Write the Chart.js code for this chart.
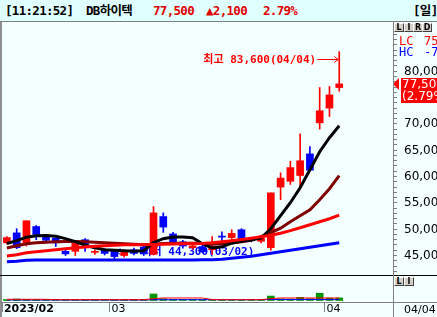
<!DOCTYPE html>
<html>
<head>
<meta charset="utf-8">
<title>DB하이텍 일봉</title>
<script src="https://cdn.jsdelivr.net/npm/chart.js@4.4.1/dist/chart.umd.min.js"></script>
<style>
    html, body { margin: 0; padding: 0; }
    body {
        width: 437px; height: 317px; position: relative; overflow: hidden;
        background: #f4ffff;
        font-family: "DejaVu Sans Mono", "Noto Sans CJK KR", monospace;
    }
    .abs { position: absolute; }
    #hdr { left: 0; top: 0; width: 437px; height: 21px; background: #e0ffff; border-bottom: 1px solid #808080; }
    #hdr span {
        position: absolute; top: 3px; font-size: 12.5px; font-weight: bold;
        letter-spacing: -0.7px; line-height: 16px; white-space: nowrap; color: #000;
    }
    #hdr span.red { color: #e00000; }
    .btn {
        position: absolute; width: 8px; height: 7px; background: #d4d0c8;
        border-top: 1px solid #fff; border-left: 1px solid #fff;
        border-right: 1px solid #404040; border-bottom: 1px solid #404040;
        font: bold 8px "DejaVu Sans", sans-serif; line-height: 7px; text-align: center; color: #000;
    }
    .side { position: absolute; font-size: 12px; line-height: 12px; white-space: nowrap; }
    canvas { position: absolute; }
</style>
</head>
<body>
<div id="hdr" class="abs">
    <span style="left:5px">[11:21:52]</span>
    <span style="left:86px">DB하이텍</span>
    <span id="hPrice" class="red" style="left:153px"></span>
    <span id="hChange" class="red" style="left:206px"></span>
    <span id="hPct" class="red" style="left:263px"></span>
    <span style="left:413px">[일]</span>
</div>

<canvas id="priceChart" width="435" height="253" style="left:2px; top:22px;"></canvas>
<canvas id="volumeChart" width="435" height="41" style="left:2px; top:276px;"></canvas>

<!-- frame lines -->
<div class="abs" style="left:0; top:22px; width:2px; height:295px; background:#909090;"></div>
<div class="abs" style="left:0; top:275px; width:437px; height:1px; background:#000;"></div>
<div class="abs" style="left:0; top:302px; width:437px; height:1px; background:#808080;"></div>
<div class="abs" style="left:393px; top:22px; width:1px; height:295px; background:#808080;"></div>

<!-- right side controls -->
<div class="btn" style="left:394px; top:23px;">L</div>
<div class="btn" style="left:404px; top:23px;">I</div>
<div class="btn" style="left:413px; top:23px;">R</div>
<div class="btn" style="left:422px; top:23px;">D</div>
<div class="side" style="left:399px; top:35px; color:#ff0000;">LC</div>
<div class="side" style="left:424px; top:35px; color:#ff0000;">75</div>
<div class="side" style="left:399px; top:46px; color:#0000ff;">HC</div>
<div class="side" style="left:424px; top:46px; color:#0000ff;">-7</div>
<div class="btn" style="left:394px; top:277px;">L</div>
<div class="btn" style="left:404px; top:277px;">I</div>
<div id="lastDate" class="side" style="left:404px; top:304px; font-family:'DejaVu Sans'; font-size:11px;"></div>

<script>
// Daily candles, DB하이텍, 2023/02/14 ~ 2023/04/04
const year = '2023';
const dates = ['02/14','02/15','02/16','02/17','02/20','02/21','02/22','02/23','02/24','02/27','02/28',
    '03/02','03/03','03/06','03/07','03/08','03/09','03/10','03/13','03/14','03/15','03/16','03/17',
    '03/20','03/21','03/22','03/23','03/24','03/27','03/28','03/29','03/30','03/31','04/03','04/04'];

const opens  = [47300,49200,47000,50400,48500,48200,45700,45700,47900,45500,45900,45700,44900,46000,46500,45100,52300,49000,47500,46400,46600,46000,48500,48300,49800,48200,47600,46400,57900,59000,60100,64200,70100,72900,76800];
const highs  = [48500,50000,51500,50600,48700,48400,45900,47400,48100,46000,46200,45900,45700,46300,46700,54200,53000,49300,47800,47000,46900,48500,49400,49800,50000,48300,48600,56800,60600,62800,68000,65600,76800,77000,83600];
const lows   = [47100,46200,46700,47900,47500,46600,44900,44900,45700,45100,45000,44300,44600,45000,44900,45000,49300,47000,46300,46100,45400,45100,47300,47500,47700,47500,47300,45900,55500,58400,57500,61100,68900,71300,76100];
const closes = [48300,46400,51500,48900,47800,47300,45200,47300,47000,45700,45300,44700,45500,45300,45200,53000,50300,47300,46700,46700,45600,46600,48400,49100,47900,47700,48200,56800,59600,61600,62900,61100,72400,75400,77500];

// Moving averages
const ma5   = [47150,47720,48380,48670,48720,48570,48100,47530,46860,46390,46010,45910,45820,45720,45820,47340,48100,48420,48420,48290,47150,46330,46580,47240,47620,47910,48190,49990,52460,54930,57780,61200,64620,67280,69550];
const ma20  = [46330,46770,47150,47340,47430,47530,47580,47580,47530,47430,47340,47240,47150,47050,46960,47050,47200,47240,47240,47240,47200,47050,47150,47340,47530,47810,48480,49240,50090,51320,52460,53600,55500,57590,60060];
const ma60  = [44810,45060,45440,45630,45820,46010,46200,46390,46520,46670,46770,46860,46960,46960,46960,46990,47050,47090,47150,47150,47200,47340,47530,47720,47940,48190,48480,48760,49140,49620,50180,50750,51320,51890,52560];
const ma120 = [43730,43820,44010,44050,44050,44050,44050,44050,44050,44050,44050,44030,44030,44030,44030,44030,44040,44040,44050,44060,44080,44110,44200,44390,44580,44770,45060,45340,45630,45910,46200,46480,46770,47050,47340];

// Volume (thousand shares) and its averages
const volumes  = [270,800,500,400,300,300,350,300,250,250,250,300,250,250,250,3500,900,500,350,300,300,300,250,300,350,250,400,2400,900,800,1700,1000,3900,1300,1400];
const volMa5   = [650,650,650,650,650,450,450,450,450,450,450,450,450,450,450,1000,1350,1350,1350,1350,1350,500,450,450,450,450,450,1000,1350,1350,1350,1350,1350,1350,1350];
const volMa20  = [300,300,300,300,300,300,300,300,300,300,300,300,300,300,300,430,430,430,430,430,430,430,430,430,430,430,430,520,520,520,520,520,520,520,520];

// Price axis: labelled values and minor tick step
const priceLabels = [45000, 50000, 55000, 60000, 65000, 70000, 75000, 80000];
const priceTickStep = 1000;

const RED = '#ff0000';
const BLUE = '#0000ff';
const TOTAL_SLOTS = 40;   // empty slots keep room on the right side

const slots = dates.concat(new Array(TOTAL_SLOTS - dates.length).fill(''));
const candleColors = closes.map((c, i) => c >= opens[i] ? RED : BLUE);
const fmt = v => v.toLocaleString('en-US');

// Header values
const last = closes[closes.length - 1];
const prev = closes[closes.length - 2];
const change = last - prev;
const pct = (change / prev * 100).toFixed(2);
document.getElementById('hPrice').textContent = fmt(last);
document.getElementById('hChange').textContent = '▲' + fmt(change);
document.getElementById('hPct').textContent = pct + '%';
document.getElementById('lastDate').textContent = dates[dates.length - 1];

// Which slots get a month label on the bottom axis
const monthStarts = dates.map((d, i) => i === 0 || d.slice(0, 2) !== dates[i - 1].slice(0, 2));

function arrow(ctx, x1, x2, y, color) {
    const dir = Math.sign(x2 - x1);
    ctx.strokeStyle = color;
    ctx.lineWidth = 1;
    ctx.beginPath();
    ctx.moveTo(x1, y + 0.5);
    ctx.lineTo(x2, y + 0.5);
    ctx.moveTo(x2 - dir * 4, y - 2.5);
    ctx.lineTo(x2, y + 0.5);
    ctx.lineTo(x2 - dir * 4, y + 3.5);
    ctx.stroke();
}

// Price axis ticks/labels, high / low notes and the current price box
const notesPlugin = {
    id: 'notes',
    beforeDatasetsDraw(chart) {
        const { ctx, scales: { x, y } } = chart;
        const lowVal = Math.min(...lows);
        const li = lows.indexOf(lowVal);
        const lx = x.getPixelForValue(li);
        const ly = y.getPixelForValue(lowVal) - 8;
        ctx.save();
        arrow(ctx, lx + 25, lx + 2, Math.round(ly), BLUE);
        ctx.font = 'bold 11px "DejaVu Sans Mono", "Noto Sans CJK KR"';
        ctx.fillStyle = BLUE;
        ctx.textAlign = 'left';
        ctx.textBaseline = 'middle';
        ctx.fillText('최저 ' + fmt(lowVal) + '(' + dates[li] + ')', lx + 27, ly + 1);
        ctx.restore();
    },
    afterDraw(chart) {
        const { ctx, scales: { x, y } } = chart;
        const ax = chart.chartArea.right;
        ctx.save();

        // axis tick marks and labels
        ctx.strokeStyle = '#808080';
        ctx.lineWidth = 1;
        ctx.beginPath();
        for (let v = Math.ceil(y.min / priceTickStep) * priceTickStep; v <= y.max; v += priceTickStep) {
            const py = Math.round(y.getPixelForValue(v)) + 0.5;
            ctx.moveTo(ax, py);
            ctx.lineTo(ax + 4, py);
        }
        ctx.stroke();
        ctx.fillStyle = '#000000';
        ctx.font = '12px "DejaVu Sans"';
        ctx.textAlign = 'left';
        ctx.textBaseline = 'middle';
        priceLabels.forEach(v => {
            ctx.fillText(fmt(v), ax + 11, Math.round(y.getPixelForValue(v)) + 1);
        });

        // all-time high note
        const highVal = Math.max(...highs);
        const hi = highs.indexOf(highVal);
        const hx = x.getPixelForValue(hi);
        const hy = y.getPixelForValue(highVal) + 7;
        arrow(ctx, hx - 22, hx - 1, Math.round(hy), RED);
        ctx.font = 'bold 11px "DejaVu Sans Mono", "Noto Sans CJK KR"';
        ctx.fillStyle = RED;
        ctx.textAlign = 'right';
        ctx.fillText('최고 ' + fmt(highVal) + '(' + dates[hi] + ')', hx - 23, hy + 1);

        // current price marker on the axis
        const py = Math.round(y.getPixelForValue(last));
        ctx.fillStyle = RED;
        ctx.beginPath();
        ctx.moveTo(ax, py);
        ctx.lineTo(ax + 6, py - 6);
        ctx.lineTo(ax + 6, py + 6);
        ctx.closePath();
        ctx.fill();
        ctx.fillRect(ax + 8, py - 6, 40, 25);
        ctx.fillStyle = '#ffffff';
        ctx.font = '12px "DejaVu Sans"';
        ctx.textAlign = 'left';
        ctx.fillText(fmt(last), ax + 9, py + 1);
        ctx.fillText('(' + pct + '%)', ax + 9, py + 13);
        ctx.restore();
    }
};

new Chart(document.getElementById('priceChart'), {
    type: 'bar',
    data: {
        labels: slots,
        datasets: [
            {
                type: 'line', label: 'MA60', data: ma60, order: 1,
                borderColor: RED, borderWidth: 3, pointRadius: 0, tension: 0
            },
            {
                type: 'line', label: 'MA5', data: ma5, order: 2,
                borderColor: '#000000', borderWidth: 3, pointRadius: 0, tension: 0
            },
            {
                type: 'line', label: 'MA20', data: ma20, order: 3,
                borderColor: '#800000', borderWidth: 3, pointRadius: 0, tension: 0
            },
            {
                type: 'line', label: 'MA120', data: ma120, order: 4,
                borderColor: BLUE, borderWidth: 3, pointRadius: 0, tension: 0
            },
            {
                label: 'body', data: opens.map((o, i) => [o, closes[i]]), order: 9,
                backgroundColor: candleColors, barThickness: 7, minBarLength: 1, grouped: false
            },
            {
                label: 'wick', data: lows.map((l, i) => [l, highs[i]]), order: 10,
                backgroundColor: candleColors, barThickness: 1, grouped: false
            }
        ]
    },
    options: {
        responsive: false,
        animation: false,
        devicePixelRatio: 1,
        events: [],
        layout: { padding: 0 },
        plugins: { legend: { display: false }, tooltip: { enabled: false } },
        scales: {
            x: { display: false, offset: true },
            y: {
                position: 'right',
                min: 41200,
                max: 89250,
                afterFit(s) { s.width = 44; s.paddingTop = 0; s.paddingBottom = 0; },
                border: { display: false },
                grid: { display: false },
                ticks: { display: false }
            }
        }
    },
    plugins: [notesPlugin]
});

new Chart(document.getElementById('volumeChart'), {
    type: 'bar',
    data: {
        labels: slots,
        datasets: [
            {
                type: 'line', label: 'Vol MA5', data: volMa5, order: 1,
                borderColor: RED, borderWidth: 1, pointRadius: 0, tension: 0
            },
            {
                type: 'line', label: 'Vol MA20', data: volMa20, order: 2,
                borderColor: BLUE, borderWidth: 1, pointRadius: 0, tension: 0
            },
            {
                label: 'Volume', data: volumes, order: 5,
                backgroundColor: '#009600', barThickness: 7, minBarLength: 1
            }
        ]
    },
    options: {
        responsive: false,
        animation: false,
        devicePixelRatio: 1,
        events: [],
        layout: { padding: 0 },
        plugins: { legend: { display: false }, tooltip: { enabled: false } },
        scales: {
            x: {
                offset: true,
                afterFit(s) { s.height = 15; s.paddingLeft = 0; s.paddingRight = 0; },
                border: { display: false },
                grid: {
                    offset: true,
                    drawOnChartArea: false,
                    drawTicks: true,
                    tickLength: 10,
                    color: ctx => monthStarts[ctx.index] ? '#808080' : 'rgba(0,0,0,0)'
                },
                ticks: {
                    autoSkip: false,
                    maxRotation: 0,
                    minRotation: 0,
                    align: 'start',
                    labelOffset: -3,
                    padding: -9,
                    color: '#000000',
                    font: ctx => ({ family: 'DejaVu Sans', size: 11, weight: ctx.index === 0 ? 'bold' : 'normal' }),
                    callback: (v, i) => {
                        if (!monthStarts[i]) return '';
                        return i === 0 ? year + '/' + dates[i].slice(0, 2) : dates[i].slice(0, 2);
                    }
                }
            },
            y: {
                position: 'right',
                min: -808,
                max: 13192,
                afterFit(s) { s.width = 44; s.paddingTop = 0; s.paddingBottom = 0; },
                border: { display: false },
                grid: { display: false },
                ticks: { display: false }
            }
        }
    }
});
</script>
</body>
</html>
